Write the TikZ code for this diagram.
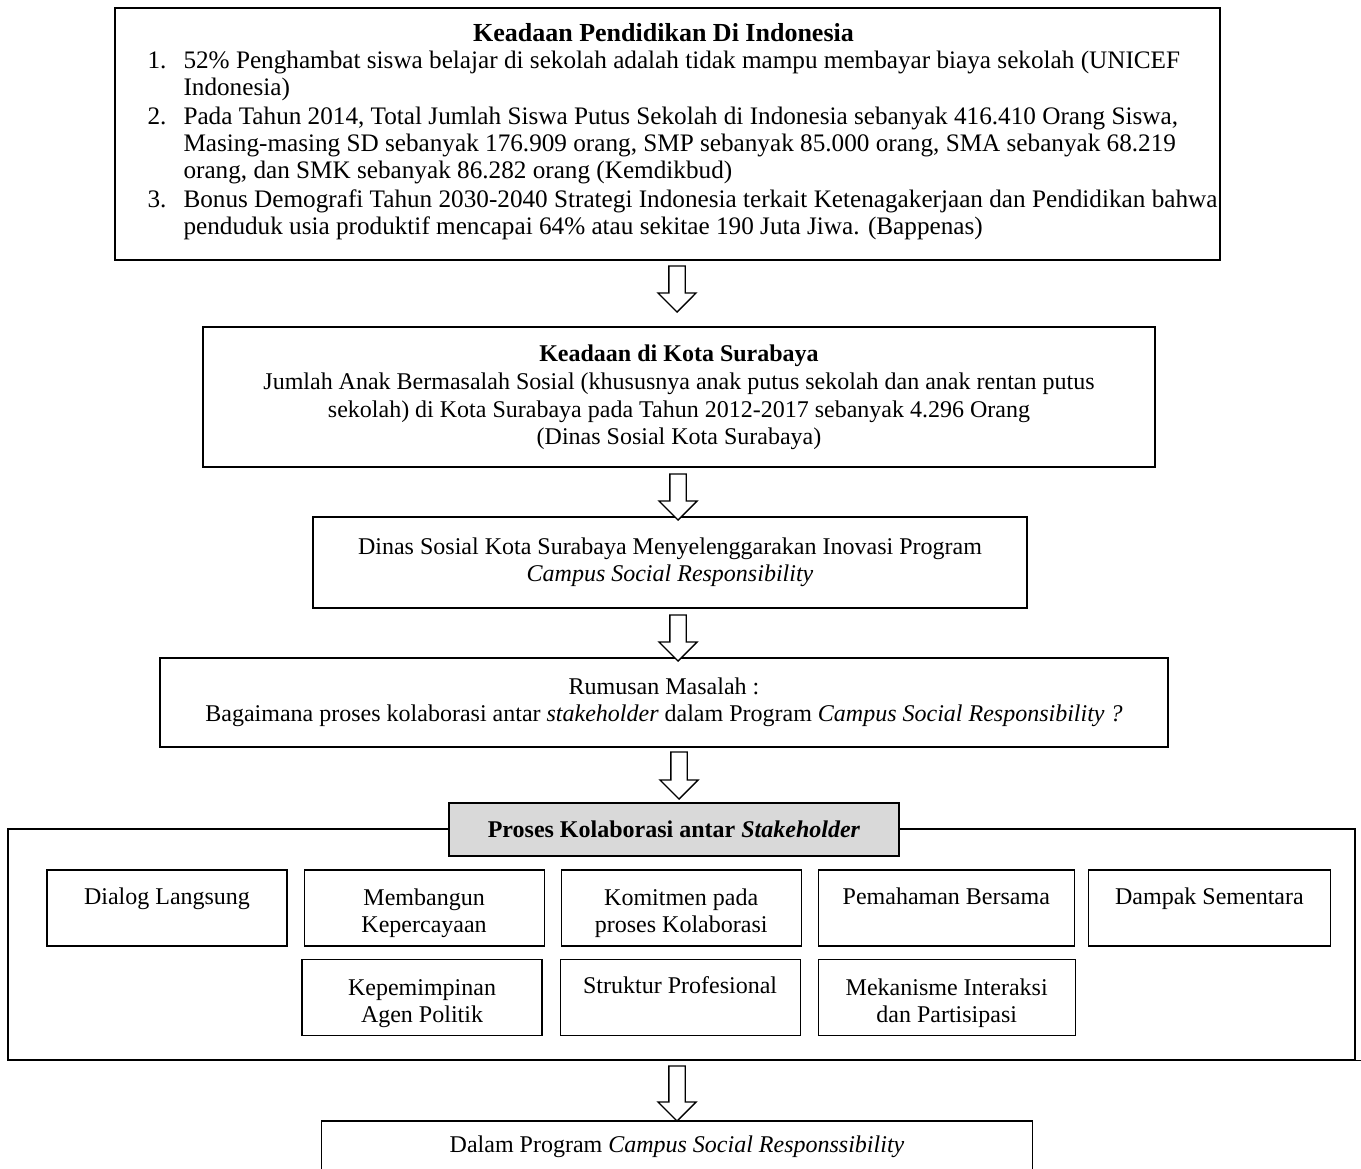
\documentclass[tikz,border=0pt]{standalone}
\usepackage{fontspec}
\setmainfont{Liberation Serif}
\usetikzlibrary{shapes.arrows, positioning, calc}
\definecolor{headgray}{HTML}{D9D9D9}
\newcommand{\bodysize}{\fontsize{24}{27}\selectfont}
\newcommand{\topsize}{\fontsize{25.2}{27}\selectfont}
\newcommand{\cellgap}{\rule{0pt}{28pt}}
\tikzset{
  box/.style      ={draw=black, line width=1.1pt, fill=white, align=center,
                    font=\bodysize, inner sep=0pt},
  boxg/.style     ={box, fill=headgray},
  cell/.style     ={box, minimum width=240pt, minimum height=76pt},
  flowarrow/.style={single arrow, draw=black, line width=1.3pt, fill=white,
                    inner sep=7.5pt, minimum height=46pt,
                    single arrow head extend=11pt, rotate=-90}
}

\begin{document}
\begin{tikzpicture}[x=1pt, y=-1pt]
  \useasboundingbox (0,0) rectangle (1361,1169);

  % Keadaan Pendidikan
  \node[box, minimum width=1105pt, minimum height=252pt] (indo) at (667.5,134) {};
  \node[font=\topsize, inner sep=0pt] (indotxt) at (682.5,133) {%
    \begin{tabular}{@{}p{36pt}@{}l@{}}
      \multicolumn{2}{c}{\hspace*{-38pt}\fontsize{26}{27}\selectfont\bfseries Keadaan Pendidikan Di Indonesia}\\
      1. & 52\% Penghambat siswa belajar di sekolah adalah tidak mampu membayar biaya sekolah (UNICEF\\
         & Indonesia)\\[2pt]
      2. & Pada Tahun 2014, Total Jumlah Siswa Putus Sekolah di Indonesia sebanyak 416.410 Orang Siswa,\\
         & Masing-masing SD sebanyak 176.909 orang, SMP sebanyak 85.000 orang, SMA sebanyak 68.219\\
         & orang, dan SMK sebanyak 86.282 orang (Kemdikbud)\\[2pt]
      3. & Bonus Demografi Tahun 2030-2040 Strategi Indonesia terkait Ketenagakerjaan dan Pendidikan bahwa\\
         & penduduk usia produktif mencapai 64\% atau sekitae 190 Juta Jiwa. (Bappenas)
    \end{tabular}};

  % Surabaya
  \node[box, minimum width=952pt, minimum height=140pt] (sby) at (679,397) {%
    \textbf{Keadaan di Kota Surabaya}\\[1pt]
    Jumlah Anak Bermasalah Sosial (khususnya anak putus sekolah dan anak rentan putus\\[1pt]
    sekolah) di Kota Surabaya pada Tahun 2012-2017 sebanyak 4.296 Orang\\
    (Dinas Sosial Kota Surabaya)};

  \node[box, minimum width=714pt, minimum height=91pt] (inov) at (670,562.5) {%
    Dinas Sosial Kota Surabaya Menyelenggarakan Inovasi Program\\
    \textit{Campus Social Responsibility}};

  \node[box, minimum width=1008pt, minimum height=89pt] (rumus) at (664,702.5) {%
    Rumusan Masalah :\\
    Bagaimana proses kolaborasi antar \textit{stakeholder} dalam Program
    \textit{Campus Social Responsibility ?}};

  % Proses Kolaborasi
  \node[box, minimum width=1347pt, minimum height=231pt] (frame) at (681.5,944.5) {};
  \draw[line width=1.1pt] (frame.south east) -- ++(7,0);
  \node[boxg, minimum width=450pt, minimum height=53pt] (head) at (674,829.5)
    {\bfseries Proses Kolaborasi antar \textit{Stakeholder}};

  \node[cell] (dialog) at (167,908) {\cellgap Dialog Langsung\\\strut};
  \node[cell, right=16pt of dialog] (percaya) {\cellgap Membangun\\Kepercayaan};
  \node[cell, right=16pt of percaya] (komit) {\cellgap Komitmen pada\\proses Kolaborasi};
  \node[cell, right=16pt of komit, minimum width=256pt] (paham) {\cellgap Pemahaman Bersama\\\strut};
  \node[cell, right=13pt of paham, minimum width=242pt] (dampak) {\cellgap Dampak Sementara\\\strut};

  \node[cell] (pimpin) at (422,997.5) {\cellgap Kepemimpinan\\Agen Politik};
  \node[cell, right=17pt of pimpin] (struktur) {\cellgap Struktur Profesional\\\strut};
  \node[cell, right=17pt of struktur, minimum width=257pt] (mekan)
    {\cellgap Mekanisme Interaksi\\dan Partisipasi};

  \node[box, minimum width=711pt, minimum height=52pt] (csr) at (677,1147)
    {Dalam Program \textit{Campus Social Responssibility}};

  % panah
  \node[flowarrow] (a1) at (677,285) {};
  \node[flowarrow] (a2) at (678,493) {};
  \node[flowarrow] (a3) at (678,634) {};
  \node[flowarrow, minimum height=47pt] (a4) at (679,771.5) {};
  \node[flowarrow, minimum height=55pt] (a5) at (677,1089.5) {};
\end{tikzpicture}
\end{document}
